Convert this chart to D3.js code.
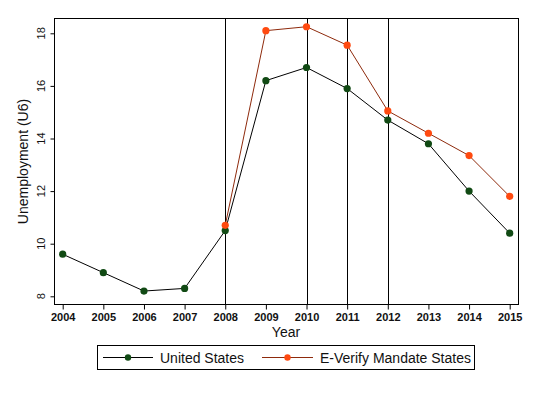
<!DOCTYPE html>
<html><head><meta charset="utf-8">
<script src="https://cdn.jsdelivr.net/npm/d3@7"></script>
<style>body{margin:0;background:#fff}svg{display:block}</style>
</head><body>
<script>
const years = [2004,2005,2006,2007,2008,2009,2010,2011,2012,2013,2014,2015];
const usValues = [9.6,8.9,8.2,8.3,10.5,16.2,16.7,15.9,14.7,13.8,12.0,10.4];
const eVerifyYears = [2008,2009,2010,2011,2012,2013,2014,2015];
const eVerifyValues = [10.7,18.1,18.25,17.55,15.05,14.2,13.35,11.8];
const yTicks = [8,10,12,14,16,18];
const refYears = [2008,2010,2011,2012];
const seriesNames = ["United States","E-Verify Mandate States"];

const W=537,H=393;
const svg=d3.select("body").append("svg").attr("width",W).attr("height",H);
svg.append("rect").attr("width",W).attr("height",H).attr("fill","#fff");
const L=54.5,R=518.5,T=18.5,B=304.5;
const x=d3.scaleLinear().domain([2004,2015]).range([62.7,509.7]);
const y=d3.scaleLinear().domain([8,18]).range([296.3,33.3]);
const font="Arial, 'Liberation Sans', sans-serif";

// reference lines
svg.selectAll(".ref").data(refYears).enter().append("line")
 .attr("x1",d=>Math.round(x(d))+0.5).attr("x2",d=>Math.round(x(d))+0.5)
 .attr("y1",T).attr("y2",B).attr("stroke","#000").attr("stroke-width",1);

// axes
const xAxis=d3.axisBottom(x).tickValues(years).tickFormat(d3.format("d")).tickSizeOuter(0).tickSize(5).tickPadding(4);
const gx=svg.append("g").attr("transform",`translate(0,${B})`).call(xAxis);
gx.select(".domain").remove();
gx.selectAll("text").attr("font-family",font).attr("font-size",11).attr("font-weight","bold").attr("fill","#111");
const yAxis=d3.axisLeft(y).tickValues(yTicks).tickSize(4).tickPadding(4);
const gy=svg.append("g").attr("transform",`translate(${L},0)`).call(yAxis);
gy.select(".domain").remove();
gy.selectAll("text").attr("font-family",font).attr("font-size",11).attr("fill","#111")
 .attr("text-anchor","middle").attr("transform","rotate(-90)")
 .attr("x",d=>-y(d)).attr("y",-10).attr("dy","0");
gy.selectAll(".tick").attr("transform",null);
gy.selectAll(".tick line").attr("y1",d=>y(d)+0.5).attr("y2",d=>y(d)+0.5);

// frame
svg.append("rect").attr("x",L).attr("y",T).attr("width",R-L).attr("height",B-T)
 .attr("fill","none").attr("stroke","#000").attr("stroke-width",1);

// lines
const line=d3.line().x(d=>x(d[0])).y(d=>y(d[1]));
const us=years.map((d,i)=>[d,usValues[i]]);
const ev=eVerifyYears.map((d,i)=>[d,eVerifyValues[i]]);
const usLine="#000", usMark="#114a14", evLine="#8e2a0c", evMark="#ff4a10";
svg.append("path").datum(us).attr("d",line).attr("fill","none").attr("stroke",usLine).attr("stroke-width",1);
svg.append("path").datum(ev).attr("d",line).attr("fill","none").attr("stroke",evLine).attr("stroke-width",1);
svg.selectAll(".usm").data(us).enter().append("circle").attr("cx",d=>x(d[0])).attr("cy",d=>y(d[1])).attr("r",3.6).attr("fill",usMark);
svg.selectAll(".evm").data(ev).enter().append("circle").attr("cx",d=>x(d[0])).attr("cy",d=>y(d[1])).attr("r",3.6).attr("fill",evMark);

// titles
svg.append("text").attr("x",286).attr("y",337).attr("text-anchor","middle").attr("font-family",font).attr("font-size",14).attr("fill","#111").text("Year");
svg.append("text").attr("transform",`translate(28,${(T+B)/2}) rotate(-90)`).attr("text-anchor","middle").attr("font-family",font).attr("font-size",14).attr("fill","#111").text("Unemployment (U6)");

// legend
svg.append("rect").attr("x",97.5).attr("y",345.5).attr("width",377).attr("height",24).attr("fill","none").attr("stroke","#000");
const leg=[{x1:103,x2:153,text:160,lc:usLine,mc:usMark},{x1:262,x2:313,text:320,lc:evLine,mc:evMark}];
leg.forEach((l,i)=>{
  svg.append("line").attr("x1",l.x1).attr("x2",l.x2).attr("y1",357.5).attr("y2",357.5).attr("stroke",l.lc);
  svg.append("circle").attr("cx",(l.x1+l.x2)/2).attr("cy",357.5).attr("r",3.2).attr("fill",l.mc);
  svg.append("text").attr("x",l.text).attr("y",362.5).attr("font-family",font).attr("font-size",14).attr("fill","#111").text(seriesNames[i]);
});
</script>
</body></html>
